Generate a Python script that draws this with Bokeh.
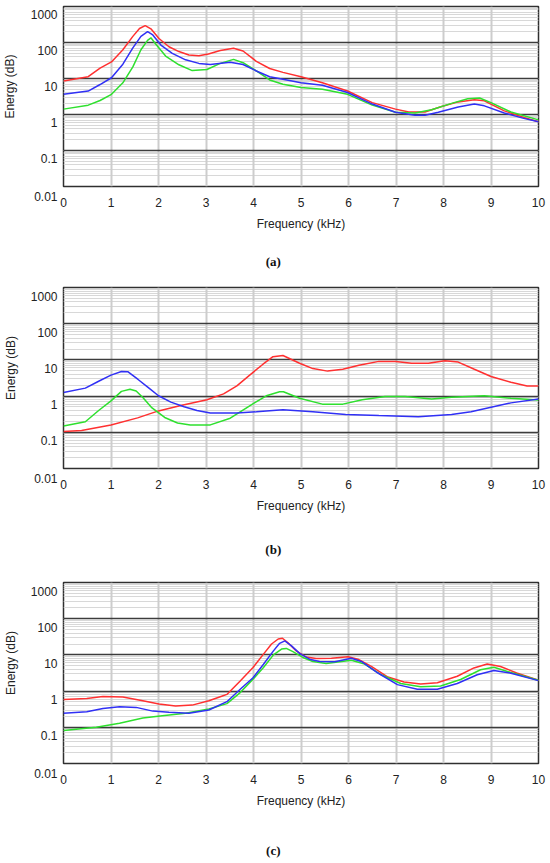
from bokeh.plotting import figure
from bokeh.models import FixedTicker, Grid, LogAxis, LinearAxis
from bokeh.layouts import column
from bokeh.embed import file_html
from bokeh.resources import INLINE

# ---------------- data ----------------
X_TICKS = [0, 1, 2, 3, 4, 5, 6, 7, 8, 9, 10]
Y_DECADES = [0.01, 0.1, 1, 10, 100, 1000]
Y_LABELS = ["0.01", "0.1", "1", "10", "100", "1000"]
X_TITLE = "Frequency (kHz)"
Y_TITLE = "Energy (dB)"

# panel (a)
a_red_x = [0, 0.52, 0.77, 1.01, 1.25, 1.46, 1.60, 1.72, 1.84, 2.01, 2.22, 2.43, 2.64, 2.85, 3.05, 3.30,
           3.58, 3.78, 4.06, 4.34, 4.62, 5.0, 5.45, 5.98, 6.5, 6.99, 7.27, 7.61, 7.96, 8.31, 8.65, 8.86,
           9.28, 9.69, 10]
a_red_y = [8.5, 11.2, 19.5, 28.8, 63, 148, 245, 295, 240, 129, 76, 56, 45, 43, 48, 60,
           69, 58, 30, 19, 14.8, 11.2, 7.6, 4.5, 2.14, 1.41, 1.17, 1.17, 1.66, 2.24, 2.57, 2.40,
           1.26, 0.83, 0.63]
a_blue_x = [0, 0.52, 0.77, 1.01, 1.25, 1.46, 1.63, 1.77, 1.88, 2.05, 2.29, 2.57, 2.85, 3.09, 3.51, 3.78,
            4.06, 4.34, 4.62, 5.0, 5.45, 5.98, 6.5, 6.99, 7.40, 7.61, 7.89, 8.31, 8.65, 8.86, 9.28, 9.69, 10]
a_blue_y = [3.63, 4.47, 6.8, 10.5, 25, 71, 148, 200, 162, 85, 50, 33, 26.3, 24.5, 28.2, 24.5,
            16.2, 11.2, 9.5, 7.6, 6.5, 4.07, 1.95, 1.15, 0.95, 0.95, 1.15, 1.62, 1.95, 1.74, 1.10, 0.78, 0.63]
a_green_x = [0, 0.52, 0.77, 1.01, 1.25, 1.46, 1.63, 1.77, 1.84, 1.94, 2.15, 2.43, 2.71, 3.02, 3.30, 3.58,
             3.78, 4.06, 4.34, 4.62, 5.0, 5.45, 5.98, 6.5, 6.99, 7.40, 7.75, 8.17, 8.51, 8.76, 9.0, 9.42, 10]
a_green_y = [1.41, 1.82, 2.45, 3.63, 7.6, 21, 63, 115, 135, 91, 42, 24, 16.6, 17.8, 26.3, 34,
             27.5, 16.2, 9.1, 6.9, 5.6, 5.0, 3.63, 1.82, 1.15, 1.10, 1.35, 2.04, 2.75, 2.88, 2.14, 1.17, 0.71]

# panel (b)
b_red_x = [0, 0.38, 1.0, 1.56, 2.0, 2.47, 3.02, 3.37, 3.65, 3.92, 4.20, 4.41, 4.62, 4.97, 5.25, 5.56,
           5.88, 6.22, 6.64, 6.99, 7.33, 7.68, 8.03, 8.31, 8.65, 9.0, 9.42, 9.76, 10]
b_red_y = [0.105, 0.112, 0.16, 0.25, 0.39, 0.55, 0.79, 1.15, 1.91, 3.8, 7.6, 12.3, 13.2, 8.1, 5.75, 4.9,
           5.5, 7.1, 9.1, 9.1, 8.1, 8.1, 9.5, 8.7, 5.5, 3.47, 2.40, 1.91, 1.91]
b_blue_x = [0, 0.46, 0.74, 1.0, 1.22, 1.36, 1.57, 1.78, 2.0, 2.26, 2.54, 2.81, 3.09, 3.65, 4.06, 4.62,
            5.25, 5.94, 6.64, 7.47, 8.17, 8.58, 9.0, 9.42, 10]
b_blue_y = [1.26, 1.66, 2.57, 3.8, 4.79, 4.68, 2.88, 1.74, 1.02, 0.68, 0.51, 0.40, 0.34, 0.34, 0.37, 0.42,
            0.37, 0.31, 0.29, 0.27, 0.31, 0.37, 0.49, 0.65, 0.83]
b_green_x = [0, 0.46, 0.74, 1.0, 1.22, 1.40, 1.53, 1.67, 1.85, 2.13, 2.40, 2.67, 3.09, 3.51, 3.92, 4.27,
             4.55, 4.63, 4.97, 5.45, 5.88, 6.29, 6.77, 7.19, 7.75, 8.17, 8.86, 9.42, 10]
b_green_y = [0.15, 0.195, 0.40, 0.74, 1.35, 1.55, 1.38, 0.91, 0.49, 0.257, 0.18, 0.16, 0.16, 0.245, 0.54, 1.02,
             1.32, 1.32, 0.87, 0.60, 0.60, 0.79, 0.98, 0.98, 0.83, 0.93, 1.02, 0.87, 0.78]

# panel (c)
c_red_x = [0, 0.49, 0.83, 1.25, 1.67, 2.01, 2.36, 2.71, 3.06, 3.33, 3.44, 3.72, 3.99, 4.21, 4.38, 4.52,
           4.61, 4.72, 4.90, 5.11, 5.32, 5.64, 5.99, 6.20, 6.48, 6.83, 7.17, 7.52, 7.87, 8.29, 8.64, 8.92,
           9.20, 9.54, 10]
c_red_y = [0.59, 0.62, 0.71, 0.69, 0.54, 0.44, 0.39, 0.41, 0.54, 0.72, 0.81, 1.91, 4.47, 10.5, 20, 27.5,
           28.8, 21.9, 12.9, 8.7, 7.9, 8.1, 8.9, 7.6, 4.8, 2.45, 1.78, 1.58, 1.70, 2.57, 4.37, 5.6,
           4.8, 3.16, 2.0]
c_blue_x = [0, 0.49, 0.83, 1.18, 1.53, 1.88, 2.22, 2.64, 3.06, 3.44, 3.72, 3.99, 4.21, 4.42, 4.55, 4.66,
            4.80, 4.97, 5.18, 5.39, 5.71, 6.06, 6.27, 6.62, 7.03, 7.45, 7.87, 8.29, 8.71, 9.06, 9.40, 10]
c_blue_y = [0.245, 0.27, 0.33, 0.37, 0.355, 0.28, 0.26, 0.245, 0.30, 0.51, 1.12, 2.34, 5.5, 12.9, 20.9, 24.5,
            17.8, 11.0, 7.6, 6.6, 6.5, 8.1, 6.6, 3.16, 1.51, 1.12, 1.12, 1.62, 2.82, 3.72, 3.16, 1.95]
c_green_x = [0, 0.69, 1.18, 1.67, 2.08, 2.57, 3.06, 3.44, 3.72, 3.99, 4.21, 4.42, 4.59, 4.69, 4.83, 5.04,
             5.25, 5.53, 6.06, 6.34, 6.69, 7.10, 7.52, 7.94, 8.36, 8.78, 9.06, 9.40, 10]
c_green_y = [0.081, 0.10, 0.13, 0.18, 0.21, 0.245, 0.32, 0.45, 0.91, 2.14, 4.47, 10, 14.5, 15.1, 12.3, 8.5,
             6.6, 5.75, 7.1, 5.6, 2.82, 1.62, 1.32, 1.38, 2.09, 3.89, 4.57, 3.31, 2.0]

CAPTIONS = ["(a)", "(b)", "(c)"]

# ---------------- styling / placement ----------------
FONT = "Liberation Sans"
TXT = "#222222"
RED, BLUE, GREEN = "#ff3030", "#3030f5", "#2ee02e"
MINORS = [m * 10.0 ** k for k in range(-2, 3) for m in range(2, 10)]
PX_PER_DEC = 36.2
SHIFT = 10 ** (-9 / PX_PER_DEC)          # labels sit 9 px below their decade line
CAP_POS = 5 - 28 / 48.0                  # caption 28 px left of the frame centre
YT_POS = 10 ** (0.5 + 10 / PX_PER_DEC)   # y title 10 px above the frame centre


def no_ticks(axis):
    axis.axis_line_color = None
    axis.major_tick_out = 0
    axis.major_tick_in = 0
    axis.minor_tick_out = 0
    axis.minor_tick_in = 0


def make_panel(caption, series, height, top, frame_h, cap_standoff):
    p = figure(width=550, height=height, x_range=(0, 10), y_range=(0.01, 1000),
               y_axis_type="log", y_axis_location=None, x_axis_location="below",
               toolbar_location=None, output_backend="svg",
               min_border_left=58, min_border_right=12, min_border_top=top,
               min_border_bottom=height - top - frame_h,
               background_fill_color="white", border_fill_color="white")
    p.outline_line_color = "#303030"
    p.outline_line_width = 1.5

    ax = p.xaxis[0]
    ax.ticker = FixedTicker(ticks=X_TICKS)
    no_ticks(ax)
    ax.major_label_text_font = FONT
    ax.major_label_text_font_size = "12px"
    ax.major_label_text_color = TXT
    ax.major_label_standoff = 11
    ax.axis_label = X_TITLE
    ax.axis_label_text_font = FONT
    ax.axis_label_text_font_size = "12px"
    ax.axis_label_text_font_style = "normal"
    ax.axis_label_text_color = TXT
    ax.axis_label_standoff = 7

    # caption as a one-tick axis further below
    cap = LinearAxis(ticker=FixedTicker(ticks=[CAP_POS]),
                     major_label_overrides={CAP_POS: caption},
                     major_label_standoff=cap_standoff,
                     major_label_text_font="Liberation Serif",
                     major_label_text_font_style="bold",
                     major_label_text_font_size="13px",
                     major_label_text_color="#111111")
    no_ticks(cap)
    p.add_layout(cap, "below")

    # y tick labels, drawn 9 px below the decade lines as in the reference
    pos = [Y_DECADES[0]] + [v * SHIFT for v in Y_DECADES[1:]]
    txt = ["\n" + Y_LABELS[0]] + Y_LABELS[1:]
    yax = LogAxis(ticker=FixedTicker(ticks=pos),
                  major_label_overrides=dict(zip(pos, txt)),
                  major_label_standoff=6,
                  major_label_text_font=FONT, major_label_text_font_size="12px",
                  major_label_text_color=TXT, major_label_text_line_height=1.5)
    no_ticks(yax)
    p.add_layout(yax, "left")

    # y title as a rotated one-tick axis
    ytit = LogAxis(ticker=FixedTicker(ticks=[YT_POS]),
                   major_label_overrides={YT_POS: Y_TITLE},
                   major_label_orientation="vertical",
                   major_label_standoff=10,
                   major_label_text_font=FONT, major_label_text_font_size="12px",
                   major_label_text_color=TXT)
    no_ticks(ytit)
    p.add_layout(ytit, "left")

    xg = p.xgrid[0]
    xg.grid_line_color = "#cdcdcd"
    xg.grid_line_width = 2

    minor_grid = Grid(dimension=1, ticker=FixedTicker(ticks=[], minor_ticks=MINORS),
                      grid_line_color=None, minor_grid_line_color="#d8d8d8",
                      minor_grid_line_width=1)
    major_grid = Grid(dimension=1, ticker=FixedTicker(ticks=Y_DECADES),
                      grid_line_color="#3c3c3c", grid_line_width=1.6)
    p.center = [minor_grid] + list(p.center) + [major_grid]

    for (xs, ys), col in zip(series, [RED, GREEN, BLUE]):
        p.line(xs, ys, line_color=col, line_width=1.5)
    return p


pa = make_panel(CAPTIONS[0], [(a_red_x, a_red_y), (a_green_x, a_green_y), (a_blue_x, a_blue_y)],
                278, 6, 180, 20)
pb = make_panel(CAPTIONS[1], [(b_red_x, b_red_y), (b_green_x, b_green_y), (b_blue_x, b_blue_y)],
                292, 9, 181, 26)
pc = make_panel(CAPTIONS[2], [(c_red_x, c_red_y), (c_green_x, c_green_y), (c_blue_x, c_blue_y)],
                293, 12, 181, 32)

layout = column(pa, pb, pc, spacing=0)
open("out.html", "w").write(file_html(layout, INLINE))
